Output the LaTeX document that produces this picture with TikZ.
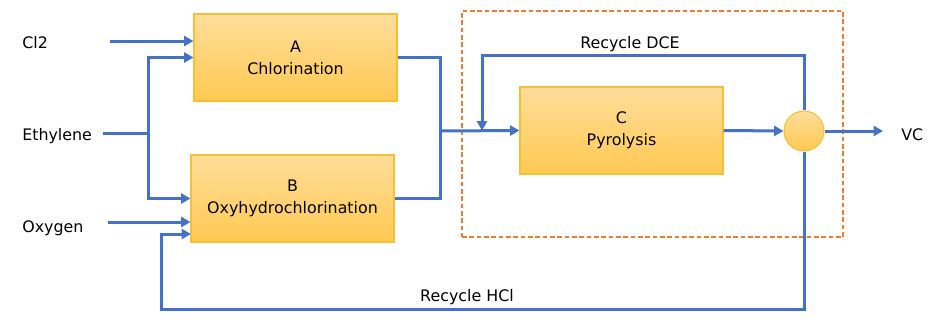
\documentclass[tikz,border=0pt]{standalone}
\usepackage{fontspec}
\setmainfont{DejaVu Sans}
\usepackage{xcolor}
\usetikzlibrary{arrows.meta, positioning}
\definecolor{flowblue}{HTML}{4472C4}
\definecolor{boxtop}{HTML}{FFDD9A}
\definecolor{boxbot}{HTML}{FFC952}
\definecolor{boxline}{HTML}{F4C136}
\definecolor{zoneorange}{HTML}{ED7D31}

\begin{document}
\begin{tikzpicture}[
    x=0.75pt, y=-0.75pt,
    font=\fontsize{11.9}{16.5}\selectfont,
    % looks shared by the drawing
    block/.style = {rectangle, draw=boxline, line width=0.8pt, top color=boxtop, bottom color=boxbot,
                    minimum width=152.25pt, minimum height=65.25pt, align=center, inner sep=0pt},
    splitter/.style = {circle, draw=boxline, line width=0.8pt, top color=boxtop, bottom color=boxbot,
                       minimum size=30pt, inner sep=0pt},
    zone/.style = {rectangle, draw=zoneorange, line width=1.4pt, dash pattern=on 3.5pt off 2pt,
                   minimum width=285.75pt, minimum height=169.5pt, inner sep=0pt},
    flow/.style = {draw=flowblue, line width=2.25pt},
    arrow/.style = {flow, -{Triangle[length=7pt, width=7.5pt]}},
    lbl/.style = {inner sep=0pt}
]
    \useasboundingbox (0,0) rectangle (939,333);

    % 1. Units and the recycle zone
    \node (zone) [zone] at (652.5,124) {};
    \node (A)   [block] at (295.5,57.5)  {A\\Chlorination};
    \node (B)   [block] at (292.5,198.5) {B\\Oxyhydrochlorination};
    \node (C)   [block] at (621.5,130.5) {C\\Pyrolysis};
    \node (sep) [splitter] at (804,131) {};

    % 2. Stream names
    \node (cl2) [lbl, anchor=base west] at (22,48)  {Cl2};
    \node (eth) [lbl, anchor=base west] at (22,140) {Ethylene};
    \node (oxy) [lbl, anchor=base west] at (22,232) {Oxygen};
    \node (vc)  [lbl, anchor=base west] at (901,140) {VC};
    \node (dcelbl) [lbl, anchor=base] at (630,48)  {Recycle DCE};
    \node (hcllbl) [lbl, anchor=base] at (467,301) {Recycle HCl};

    % 3. Free ends and bends
    \coordinate (cl2in)  at (110,41);
    \coordinate (ethin)  at (103,133);
    \coordinate (ethsplit) at (148,133);
    \coordinate (oxyin)  at (108,222);
    \coordinate (mix)    at (440,131);
    \coordinate (dcetop) at (482,55);
    \coordinate (hclbot) at (161,309);
    \coordinate (hclin)  at (191,234);
    \coordinate (vcout)  at (883,131);

    % 4. Feeds
    \draw [arrow] (cl2in) -- (cl2in -| A.west);
    \draw [flow]  (ethin) -- (ethsplit);
    \draw [arrow] (ethsplit) |- (A.west);
    \draw [arrow] (ethsplit) |- (B.west);
    \draw [arrow] (oxyin) -- (oxyin -| B.west);

    % 5. Products to pyrolysis
    \draw [flow]  (A.east) -| (mix);
    \draw [flow]  (B.east) -| (mix);
    \draw [arrow] (mix) -- (C.west);
    \draw [arrow] (C.east) -- (sep.west);
    \draw [arrow] (sep.east) -- (vcout);

    % 6. Recycle loops
    \draw [arrow] (sep.north) |- (dcetop) -- (dcetop |- C.west);
    \draw [arrow] (sep.south) |- (hclbot) |- (hclin);

\end{tikzpicture}
\end{document}
